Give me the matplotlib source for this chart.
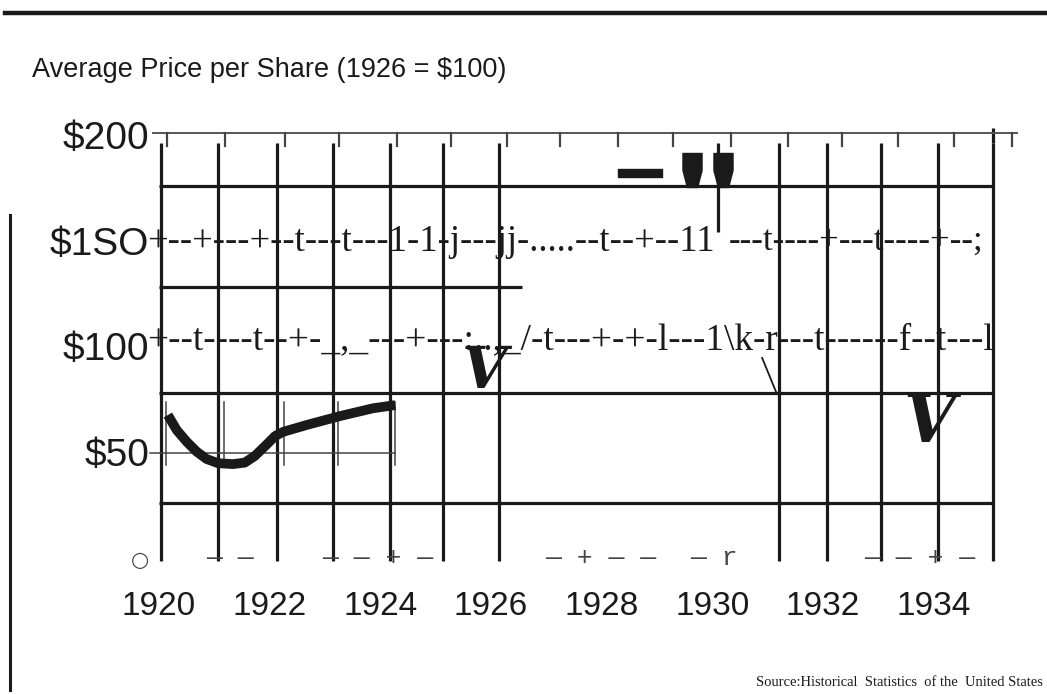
import matplotlib
matplotlib.use("Agg")
import matplotlib.pyplot as plt
from matplotlib.lines import Line2D
from matplotlib.path import Path

# ---------------- data ----------------
title = "Average Price per Share (1926 = $100)"
source = "Source:Historical  Statistics  of the  United States"

x_ticks = [1920, 1922, 1924, 1926, 1928, 1930, 1932, 1934]
x_labels = ["1920", "1922", "1924", "1926", "1928", "1930", "1932", "1934"]
y_ticks = [0, 50, 100, 150, 200]
y_labels = ["\u25cb", "$50", "$100", "$1SO", "$200"]

# price curve 1920-1924 (1926 = 100)
curve_years = [1920.16, 1920.32, 1920.50, 1920.68, 1920.86, 1921.07, 1921.34, 1921.55,
               1921.73, 1921.92, 1922.10, 1922.25, 1922.67, 1923.27, 1923.87, 1924.27]
curve_values = [67.6, 60.5, 55.0, 50.3, 46.8, 44.8, 44.4, 45.1,
                48.2, 53.0, 57.7, 59.7, 62.9, 67.1, 70.8, 72.3]

# grid
vgrid_years = [1920.03, 1921.06, 1922.14, 1923.14, 1924.17, 1925.13, 1926.14,
               1931.2, 1932.07, 1933.05, 1934.08, 1935.08]
hgrid_values = [175.9, 128.1, 78.0, 26.0]
hgrid_ends = [1935.08, 1926.56, 1935.08, 1935.08]
ruler_ticks = [1920.15, 1921.19, 1922.28, 1923.25, 1924.30, 1925.28, 1926.29, 1927.25,
               1928.30, 1929.29, 1930.33, 1931.36, 1932.35, 1933.36, 1934.36, 1935.41]
small_ticks = [1920.13, 1921.18, 1922.26, 1923.24, 1924.27]

# garbled scan text rows
row_texts = ["+--+---+--t---t---1-1-j---jj-.....--t--+--11",
             "---t----+---t----+--;",
             "+--t----t--+-_,_---+---:..,_/-t---+-+-l---1\\k-r---t------f--t---l"]
row_x = [1919.78, 1930.30, 1919.78]
row_y = [149.6, 149.6, 103.0]
row_size = [26.4, 25.2, 26.8]

zero_texts = ["\u2014 \u2014", "\u2014 \u2014 + \u2014", "\u2014 + \u2014 \u2014", "\u2014 r", "\u2014 \u2014 + \u2014"]
zero_x = [1920.85, 1922.95, 1926.98, 1929.60, 1932.75]

v_x = [1925.89, 1933.92]
v_y = [88.0, 63.5]
v_size = [42, 48]

bar_x = [1928.70]
bar_y = [181.8]
taper_x = [1929.63, 1930.20]
taper_y = [183.5, 183.5]

# ---------------- figure ----------------
W, H = 1047, 694
fig = plt.figure(figsize=(W / 100, H / 100), dpi=100)
fig.patch.set_facecolor("white")
ax = fig.add_axes([159 / W, (H - 558) / H, 830 / W, 423 / H])
ax.set_xlim(1920, 1935)
ax.set_ylim(0, 200)
for s in ax.spines.values():
    s.set_visible(False)

ink = "#1a1a1a"

ax.set_xticks(x_ticks)
ax.set_xticklabels(x_labels, fontsize=24, family=["Liberation Sans", "DejaVu Sans"], color=ink)
ax.set_yticks(y_ticks)
ax.set_yticklabels(y_labels, fontsize=28, family=["Liberation Sans", "DejaVu Sans"], color=ink)
ax.tick_params(axis="x", length=0, pad=24)
ax.tick_params(axis="y", length=0, pad=7)
ax.get_yticklabels()[0].set_fontsize(15)
ax.get_yticklabels()[0].set_family(["DejaVu Sans"])
ax.get_yticklabels()[0].set_color("#444444")

# vertical grid
for xv in vgrid_years:
    ax.plot([xv, xv], [196.2, -1.5], color=ink, lw=2.3, clip_on=False, solid_capstyle="butt")
ax.plot([vgrid_years[-1]] * 2, [203.5, 196], color=ink, lw=2.3, clip_on=False, solid_capstyle="butt")
# horizontal grid
for yv, xe in zip(hgrid_values, hgrid_ends):
    ax.plot([1920.0, xe], [yv, yv], color=ink, lw=2.3, clip_on=False, solid_capstyle="butt")
# top ruler
ax.plot([1919.9, 1935.5], [201, 201], color="#555555", lw=1.4, clip_on=False)
for xt in ruler_ticks:
    ax.plot([xt, xt], [201, 194.8], color="#444444", lw=1.6, clip_on=False)
# short vertical under marks
ax.plot([1930.11, 1930.11], [196.2, 154.1], color=ink, lw=2.3, clip_on=False, solid_capstyle="butt")
# thin $50 ruler
ax.plot([1919.84, 1924.27], [49.6, 49.6], color="#444444", lw=1.1, clip_on=False)
for xt in small_ticks:
    ax.plot([xt, xt], [73.8, 44.0], color="#444444", lw=1.1, clip_on=False)
# diagonal stroke
ax.plot([1930.90, 1931.16], [94.6, 78.0], color=ink, lw=1.3, clip_on=False)

# price curve
ax.plot(curve_years, curve_values, color=ink, lw=7, solid_capstyle="butt",
        solid_joinstyle="round", clip_on=False, zorder=5)

# garbled text rows
for t, xx, yy, fs in zip(row_texts, row_x, row_y, row_size):
    ax.text(xx, yy, t, fontsize=fs, family="Liberation Serif", color=ink,
            ha="left", va="center", clip_on=False)
for t, xx in zip(zero_texts, zero_x):
    ax.text(xx, 0, t, fontsize=19, family="Liberation Mono", color="#444444",
            ha="left", va="center", clip_on=False)

# bold V marks
for xx, yy, fs in zip(v_x, v_y, v_size):
    ax.text(xx, yy, "V", fontsize=fs, family="DejaVu Serif", fontweight="heavy",
            style="italic", color=ink, ha="center", va="center", zorder=6)

# black marks near the top
bar_path = Path([(-1, -0.2), (1, -0.2), (1, 0.2), (-1, 0.2), (-1, -0.2)],
                [Path.MOVETO, Path.LINETO, Path.LINETO, Path.LINETO, Path.CLOSEPOLY])
taper_path = Path([(-0.56, 1), (0.56, 1), (0.56, 0.0), (0.3, -1), (-0.3, -1), (-0.56, 0.0), (-0.56, 1)],
                  [Path.MOVETO] + [Path.LINETO] * 5 + [Path.CLOSEPOLY])
ax.plot(bar_x, bar_y, linestyle="none", marker=bar_path, markersize=32, color=ink, clip_on=False)
ax.plot(taper_x, taper_y, linestyle="none", marker=taper_path, markersize=24.5, color=ink, clip_on=False)

# title, source, page rules
fig.text(32 / W, 1 - 70 / H, title, fontsize=19.5, family=["Liberation Sans Narrow", "Liberation Sans"],
         color=ink, ha="left", va="center")
fig.text(1043 / W, 1 - 683 / H, source, fontsize=10.5, family="Liberation Serif",
         color=ink, ha="right", va="center")
fig.add_artist(Line2D([5 / W, 1.0], [1 - 13 / H, 1 - 13 / H], color=ink, lw=3.2))
fig.add_artist(Line2D([10 / W, 10 / W], [1 - 215 / H, 1 - 690 / H], color=ink, lw=2.2))

fig.savefig("out.png", dpi=100)
